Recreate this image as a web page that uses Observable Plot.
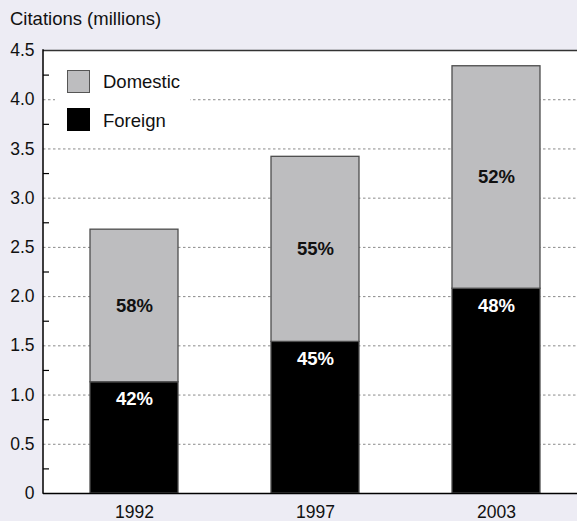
<!DOCTYPE html>
<html>
<head>
<meta charset="utf-8">
<script src="https://cdn.jsdelivr.net/npm/d3@7"></script>
<script src="https://cdn.jsdelivr.net/npm/@observablehq/plot@0.6"></script>
<style>
  body { margin: 0; background: #edecf4; }
  #wrap { position: relative; width: 577px; height: 521px; font-family: "Liberation Sans", Arial, sans-serif; color: #111; }
  #chart { position: absolute; left: 0; top: 0; }
  #title { position: absolute; left: 10px; top: 10px; font-size: 18.5px; line-height: 18px; }
  #legendBox { position: absolute; left: 55px; top: 57px; width: 135px; height: 85px; background: #fff; }
  .sw { position: absolute; left: 67px; width: 23px; height: 23px; box-sizing: border-box; }
  .lt { position: absolute; left: 103px; font-size: 18.5px; line-height: 18px; }
</style>
</head>
<body>
<div id="wrap">
  <div id="chart"></div>
  <div id="title">Citations (millions)</div>
  <div id="legendBox"></div>
  <div class="sw" id="sw0" style="top:70px;"></div>
  <div class="lt" id="lt0" style="top:72.5px;"></div>
  <div class="sw" id="sw1" style="top:107.5px;"></div>
  <div class="lt" id="lt1" style="top:111.5px;"></div>
</div>
<script>
// ---- data ----
const years = ["1992", "1997", "2003"];
const foreign = [1.13, 1.54, 2.08];
const domestic = [1.55, 1.88, 2.26];
const foreignPct = ["42%", "45%", "48%"];
const domesticPct = ["58%", "55%", "52%"];
const seriesNames = ["Domestic", "Foreign"];
const seriesColors = ["#bdbdbf", "#000000"];
const yTicks = [0, 0.5, 1.0, 1.5, 2.0, 2.5, 3.0, 3.5, 4.0, 4.5];
const gridTicks = [0.5, 1.0, 1.5, 2.0, 2.5, 3.0, 3.5, 4.0];
const minorTicks = [0.25, 0.75, 1.25, 1.75, 2.25, 2.75, 3.25, 3.75, 4.25];

// ---- derived table ----
const rows = [];
years.forEach((yr, i) => {
  rows.push({year: yr, type: "Foreign", y1: 0, y2: foreign[i], label: foreignPct[i]});
  rows.push({year: yr, type: "Domestic", y1: foreign[i], y2: foreign[i] + domestic[i], label: domesticPct[i]});
});
const domRows = rows.filter(d => d.type === "Domestic").map(d => ({...d, mid: (d.y1 + d.y2) / 2}));
const forRows = rows.filter(d => d.type === "Foreign");

const font = '"Liberation Sans", Arial, sans-serif';

// left axis line drawn from the plot's own dimensions
function leftAxisLine(index, scales, values, dimensions) {
  const {marginLeft, marginTop, height, marginBottom} = dimensions;
  const line = document.createElementNS("http://www.w3.org/2000/svg", "line");
  line.setAttribute("x1", marginLeft);
  line.setAttribute("x2", marginLeft);
  line.setAttribute("y1", marginTop - 0.75);
  line.setAttribute("y2", height - marginBottom + 0.75);
  line.setAttribute("stroke", "#000");
  line.setAttribute("stroke-width", 1.5);
  return line;
}

const chart = Plot.plot({
  width: 577,
  height: 521,
  marginTop: 50,
  marginBottom: 28,
  marginLeft: 43,
  marginRight: 0,
  style: { background: "transparent", fontFamily: font, color: "#111", overflow: "visible" },
  x: { domain: years, range: [90, 540], paddingInner: 0.514, paddingOuter: 0, axis: null, label: null },
  y: { domain: [0, 4.5], axis: null, label: null },
  color: { domain: seriesNames, range: seriesColors },
  marks: [
    Plot.frame({ fill: "white", stroke: "none" }),
    Plot.gridY(gridTicks, { stroke: "#8a8a8a", strokeOpacity: 1, strokeWidth: 1, strokeDasharray: "2.5,2.5" }),
    Plot.barY(rows, { x: "year", y1: "y1", y2: "y2", fill: "type", stroke: "#4d4d4d", strokeWidth: 1.3, inset: 0 }),
    Plot.text(domRows, { x: "year", y: "mid", text: "label", fill: "#111", fontWeight: "bold", fontSize: 18.5, fontFamily: font }),
    Plot.text(forRows, { x: "year", y: "y2", text: "label", fill: "white", fontWeight: "bold", fontSize: 18.5, dy: 17, fontFamily: font }),
    Plot.ruleY([4.5], { stroke: "#333", strokeWidth: 1.5 }),
    Plot.ruleY([0], { stroke: "#000", strokeWidth: 1.5 }),
    leftAxisLine,
    Plot.axisY(minorTicks, { tickSize: -6, tickFormat: () => "", stroke: "#000", strokeWidth: 1.2, label: null }),
    Plot.axisY(yTicks, { tickSize: 0, tickPadding: 9, fontSize: 17.5, fill: "#111", label: null, tickFormat: d => d === 0 ? "0" : d.toFixed(1) }),
    Plot.axisX({ tickSize: 0, tickPadding: 12, fontSize: 17.5, fill: "#111", label: null })
  ]
});
document.getElementById("chart").appendChild(chart);

// legend
document.getElementById("sw0").style.cssText += `background:${seriesColors[0]};border:1.5px solid #555;`;
document.getElementById("sw1").style.cssText += `background:${seriesColors[1]};`;
document.getElementById("lt0").textContent = seriesNames[0];
document.getElementById("lt1").textContent = seriesNames[1];
</script>
</body>
</html>
